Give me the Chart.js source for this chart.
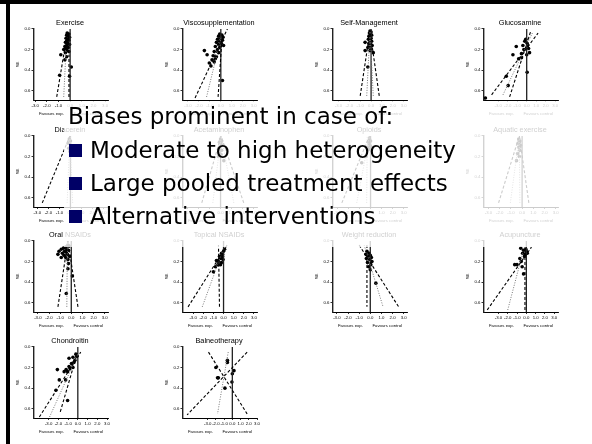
<!DOCTYPE html>
<html>
<head>
<meta charset="utf-8">
<script src="https://cdn.jsdelivr.net/npm/chart.js@4.4.0/dist/chart.umd.min.js"></script>
<style>
  html, body { margin: 0; padding: 0; background: #fff; }
  #slide { position: relative; width: 592px; height: 444px; overflow: hidden; background: #fff; }
  #slide canvas { position: absolute; }
  .frame { position: absolute; background: #000; }
  #veil { position: absolute; left: 64px; top: 101px; width: 526px; height: 146px; background: rgba(255,255,255,0.8); }
  .txt { position: absolute; font-family: "DejaVu Sans", sans-serif; font-size: 23px; line-height: 23px; color: #000; white-space: nowrap; }
  .sq { position: absolute; width: 13px; height: 13px; background: #000066; }
</style>
</head>
<body>
<div id="slide">
  <div class="frame" style="left:0;top:0;width:592px;height:4px"></div>
  <div class="frame" style="left:6px;top:0;width:4px;height:444px"></div>
  <div id="veil"></div>
  <div class="txt" style="left:68px;top:105px">Biases prominent in case of:</div>
  <div class="sq" style="left:69px;top:144px"></div>
  <div class="txt" style="left:90px;top:139px">Moderate to high heterogeneity</div>
  <div class="sq" style="left:69px;top:177px"></div>
  <div class="txt" style="left:90px;top:172px">Large pooled treatment effects</div>
  <div class="sq" style="left:69px;top:210px"></div>
  <div class="txt" style="left:90px;top:205px">Alternative interventions</div>
</div>
<script>
const titles = ['Exercise', 'Viscosupplementation', 'Self-Management', 'Glucosamine',
  'Diacerein', 'Acetaminophen', 'Opioids', 'Aquatic exercise',
  'Oral NSAIDs', 'Topical NSAIDs', 'Weight reduction', 'Acupuncture',
  'Chondroitin', 'Balneotherapy'];
const xTickValues = [-3, -2, -1, 0, 1, 2, 3];
const seTicks = [0, 0.2, 0.4, 0.6];
const seMax = 0.69;
const xRanges = [[-3.1, 3.25], [-3.45, 3.3], [-3.5, 3.3], [-4.5, 3.3],
  [-3.3, 3.4], [-3.4, 3.3], [-3.4, 3.3], [-3.4, 3.2],
  [-3.35, 3.3], [-4.0, 3.3], [-3.35, 3.3], [-4.55, 3.4],
  [-4.5, 3.1], [-6.0, 3.0]];

// [effect, SE]
const exercisePts = [[-0.25,0.04],[-0.1,0.05],[-0.3,0.06],[-0.15,0.07],[-0.05,0.08],[-0.35,0.09],[-0.2,0.1],[-0.1,0.11],[-0.3,0.12],[-0.4,0.13],[-0.2,0.14],[-0.05,0.15],[-0.3,0.16],[-0.45,0.17],[-0.15,0.18],[-0.35,0.19],[-0.55,0.2],[-0.25,0.21],[-0.1,0.22],[-0.4,0.23],[-0.8,0.25],[-0.3,0.27],[-0.45,0.3],[0.1,0.37],[-0.9,0.45],[-0.05,0.46]];
const viscoPts = [[-0.1,0.05],[0.1,0.06],[-0.2,0.07],[0.2,0.08],[0.0,0.09],[-0.3,0.1],[0.15,0.11],[-0.1,0.12],[-0.4,0.13],[0.05,0.14],[-0.2,0.15],[0.25,0.16],[-0.5,0.17],[-0.1,0.18],[-1.5,0.21],[-0.3,0.2],[-0.6,0.22],[-0.2,0.23],[-1.25,0.25],[-0.7,0.26],[-0.4,0.27],[-0.5,0.29],[-0.8,0.3],[-1.05,0.33],[-0.6,0.32],[-0.9,0.36],[0.15,0.5]];
const selfMgmtPts = [[-0.1,0.02],[0.0,0.03],[-0.15,0.04],[-0.05,0.05],[0.05,0.06],[-0.2,0.07],[-0.1,0.08],[0.0,0.09],[-0.25,0.1],[-0.1,0.11],[0.05,0.12],[-0.55,0.13],[-0.2,0.14],[-0.05,0.15],[0.1,0.16],[-0.15,0.17],[-0.3,0.18],[0.0,0.19],[-0.55,0.21],[-0.1,0.21],[0.2,0.23],[-0.3,0.37]];
const glucosaminePts = [[-0.1,0.1],[-0.2,0.12],[0.05,0.14],[-0.4,0.16],[0.1,0.16],[-1.1,0.17],[0.2,0.19],[-0.3,0.2],[0.3,0.23],[-0.55,0.24],[0.0,0.25],[-1.45,0.25],[-0.55,0.28],[-0.85,0.29],[0.05,0.42],[-2.15,0.46],[-1.95,0.55],[-4.35,0.67]];
const diacereinPts = [[-0.1,0.03],[0.0,0.05],[-0.2,0.07],[0.05,0.09],[-0.15,0.12],[-0.05,0.15]];
const acetaminophenPts = [[0.0,0.03],[0.1,0.05],[-0.1,0.06],[0.15,0.08],[0.0,0.1],[-0.15,0.12],[0.1,0.14],[0.05,0.18],[-0.2,0.2],[0.3,0.24]];
const opioidPts = [[-0.1,0.03],[0.0,0.05],[-0.2,0.06],[-0.1,0.08],[0.0,0.1],[-0.3,0.11],[-0.15,0.13],[-0.4,0.2],[-0.8,0.26]];
const aquaticPts = [[-0.3,0.03],[-0.2,0.05],[-0.35,0.07],[-0.15,0.09],[-0.3,0.11],[-0.2,0.14],[-0.4,0.17],[-0.25,0.2],[-0.5,0.24]];
const oralNsaidPts = [[-0.3,0.04],[-0.2,0.05],[-0.5,0.06],[-0.7,0.07],[-0.4,0.08],[-0.9,0.08],[-0.25,0.09],[-1.1,0.1],[-0.6,0.1],[-0.45,0.11],[-0.8,0.12],[-1.2,0.13],[-0.35,0.13],[-0.65,0.14],[-0.15,0.15],[-0.5,0.16],[-0.9,0.16],[-0.3,0.18],[-0.25,0.22],[-0.3,0.27],[0.1,0.34],[-0.45,0.51]];
const topicalNsaidPts = [[0.1,0.08],[0.0,0.1],[-0.2,0.12],[-0.1,0.13],[-0.4,0.15],[-0.1,0.15],[-0.3,0.17],[-0.05,0.18],[-0.7,0.19],[-0.5,0.2],[-0.2,0.21],[-0.55,0.23],[-0.3,0.23],[-0.8,0.25],[-1.0,0.3]];
const weightPts = [[-0.3,0.1],[-0.1,0.12],[-0.4,0.13],[0.0,0.14],[-0.2,0.15],[0.1,0.16],[-0.35,0.17],[-0.05,0.18],[0.15,0.2],[-0.25,0.21],[0.05,0.23],[-0.15,0.25],[0.0,0.28],[0.5,0.41]];
const acupuncturePts = [[-0.6,0.07],[-0.05,0.08],[-0.3,0.09],[0.0,0.1],[-0.4,0.12],[0.1,0.12],[-0.1,0.13],[-0.2,0.15],[-0.7,0.17],[-0.55,0.2],[-1.25,0.23],[-1.0,0.23],[-0.45,0.25],[-0.3,0.32]];
const chondroitinPts = [[-0.2,0.07],[-0.1,0.09],[-0.5,0.1],[-0.9,0.11],[-0.3,0.13],[-0.4,0.15],[-0.65,0.16],[-0.9,0.19],[-0.5,0.2],[-0.8,0.21],[-1.2,0.22],[-2.1,0.22],[-1.05,0.24],[-1.4,0.24],[-1.9,0.32],[-1.25,0.32],[-2.25,0.42],[-1.05,0.52]];
const balneoPts = [[-0.6,0.13],[-0.6,0.15],[-2.0,0.2],[0.2,0.23],[0.0,0.26],[-1.8,0.3],[-1.7,0.3],[-0.05,0.34],[-0.9,0.4]];

// dashed and dotted guide lines, each as [start, end] in [effect, SE]
const exerciseDash = [[[-1.15,0.66],[-0.3,0.08]], [[-0.1,0.66],[-0.1,0.25]]];
const exerciseDot = [[[-0.55,0.66],[-0.35,0.2]]];
const viscoDash = [[[-2.35,0.67],[0.6,0.0]], [[-0.25,0.66],[0.1,0.1]]];
const viscoDot = [[[-1.3,0.66],[0.05,0.07]]];
const selfMgmtDash = [[[-1.0,0.65],[-0.1,0.02]], [[0.75,0.65],[-0.1,0.02]]];
const selfMgmtDot = [[[-0.4,0.65],[-0.1,0.02]], [[0.2,0.65],[-0.1,0.02]]];
const glucosamineDash = [[[-3.7,0.64],[1.2,0.04]], [[-1.8,0.66],[0.4,0.03]]];
const glucosamineDot = [[[-2.5,0.64],[0.65,0.03]]];
const diacereinDash = [[[-2.55,0.65],[-0.05,0.0]]];
const diacereinDot = [[[-0.3,0.65],[-0.05,0.0]], [[0.2,0.65],[-0.05,0.0]]];
const acetaminophenDash = [[[-1.7,0.65],[0.05,0.0]], [[2.1,0.65],[0.05,0.0]]];
const acetaminophenDot = [[[-0.7,0.65],[0.05,0.0]], [[1.2,0.65],[0.05,0.0]]];
const opioidDash = [[[-2.6,0.65],[-0.1,0.0]]];
const opioidDot = [[[-1.25,0.65],[-0.1,0.0]], [[-0.35,0.65],[-0.3,0.0]]];
const aquaticDash = [[[-2.1,0.65],[-0.25,0.0]], [[0.6,0.65],[-0.25,0.0]]];
const aquaticDot = [[[-1.05,0.65],[-0.25,0.0]], [[-0.2,0.65],[-0.25,0.0]]];
const oralNsaidDash = [[[-1.2,0.64],[-0.3,0.0]], [[0.6,0.64],[-0.3,0.0]]];
const oralNsaidDot = [[[-0.4,0.64],[-0.35,0.0]]];
const topicalNsaidDash = [[[-3.5,0.64],[0.35,0.04]], [[-0.4,0.64],[-0.5,0.04]]];
const topicalNsaidDot = [[[-2.1,0.64],[-0.1,0.1]]];
const weightDash = [[[-1.0,0.04],[2.55,0.64]], [[-0.3,0.04],[-0.3,0.64]]];
const weightDot = [[[-0.55,0.04],[1.15,0.64]]];
const acupunctureDash = [[[-4.2,0.67],[0.55,0.06]], [[-0.15,0.67],[-0.15,0.06]]];
const acupunctureDot = [[[-2.0,0.67],[-0.4,0.12]]];
const chondroitinDash = [[[-3.95,0.68],[0.3,0.05]], [[-1.8,0.63],[-0.05,0.06]]];
const chondroitinDot = [[[-2.9,0.68],[0.0,0.07]]];
const balneoDash = [[[-2.9,0.05],[1.8,0.65]], [[1.8,0.05],[-5.5,0.66]]];
const balneoDot = [[[-0.5,0.05],[-1.8,0.65]]];

const studyPoints = [exercisePts, viscoPts, selfMgmtPts, glucosaminePts, diacereinPts, acetaminophenPts, opioidPts, aquaticPts,
  oralNsaidPts, topicalNsaidPts, weightPts, acupuncturePts, chondroitinPts, balneoPts];
const dashedLines = [exerciseDash, viscoDash, selfMgmtDash, glucosamineDash, diacereinDash, acetaminophenDash, opioidDash, aquaticDash,
  oralNsaidDash, topicalNsaidDash, weightDash, acupunctureDash, chondroitinDash, balneoDash];
const dottedLines = [exerciseDot, viscoDot, selfMgmtDot, glucosamineDot, diacereinDot, acetaminophenDot, opioidDot, aquaticDot,
  oralNsaidDot, topicalNsaidDot, weightDot, acupunctureDot, chondroitinDot, balneoDot];

// layout of the 4x4 grid (y axis x position, top of plot area)
const colX = [34, 183, 333, 484];
const rowY = [29, 136, 241, 347];
const plotW = 74, plotH = 71;
const leftW = 26, rightW = 24, topH = 14, bottomH = 17;
const smallFont = { family: 'Liberation Sans', size: 4.3 };

const slide = document.getElementById('slide');
const veil = document.getElementById('veil');

const toXY = pts => pts.map(p => ({ x: p[0], y: p[1] }));

titles.forEach((title, i) => {
  const col = i % 4, row = Math.floor(i / 4);
  const cv = document.createElement('canvas');
  cv.width = leftW + plotW + rightW;
  cv.height = topH + plotH + bottomH;
  cv.style.left = (colX[col] - leftW) + 'px';
  cv.style.top = (rowY[row] - topH) + 'px';
  slide.insertBefore(cv, veil);

  const [xMin, xMax] = xRanges[i];
  const datasets = [];
  dashedLines[i].forEach(seg => datasets.push({
    data: toXY(seg), showLine: true, pointRadius: 0, borderColor: '#000', borderWidth: 1.1, borderDash: [3, 2]
  }));
  dottedLines[i].forEach(seg => datasets.push({
    data: toXY(seg), showLine: true, pointRadius: 0, borderColor: '#777', borderWidth: 1, borderDash: [1, 1.5]
  }));
  datasets.push({
    data: [{ x: 0, y: 0 }, { x: 0, y: seMax }], showLine: true, pointRadius: 0, borderColor: '#222', borderWidth: 1.3
  });
  datasets.push({
    data: toXY(studyPoints[i]), showLine: false, pointRadius: 1.8, pointBackgroundColor: '#000', pointBorderWidth: 0
  });

  new Chart(cv, {
    type: 'scatter',
    data: { datasets },
    options: {
      responsive: false,
      animation: false,
      devicePixelRatio: 1,
      layout: { padding: 0 },
      plugins: {
        legend: { display: false },
        tooltip: { enabled: false },
        title: {
          display: true, text: title, color: '#000',
          font: { family: 'Liberation Sans', size: 7.3, weight: 'normal' },
          padding: { top: 3.6, bottom: 1.6 }
        }
      },
      scales: {
        x: {
          type: 'linear', min: xMin, max: xMax,
          afterFit: s => { s.height = bottomH; },
          afterBuildTicks: s => { s.ticks = xTickValues.filter(v => v >= xMin && v <= xMax).map(v => ({ value: v })); },
          ticks: { font: smallFont, color: '#000', padding: 1.5, maxRotation: 0, autoSkip: false, callback: v => v.toFixed(1) },
          grid: { display: true, drawOnChartArea: false, drawTicks: true, tickLength: 2, color: '#000', lineWidth: 0.8 },
          border: { display: true, color: '#000', width: 1 },
          title: { display: true, text: 'Favours exp.        Favours control', font: smallFont, color: '#000', padding: { top: 0, bottom: 1 } }
        },
        y: {
          type: 'linear', reverse: true, min: 0, max: seMax,
          afterFit: s => { s.width = leftW; },
          afterBuildTicks: s => { s.ticks = seTicks.map(v => ({ value: v })); },
          ticks: { font: smallFont, color: '#000', padding: 1, autoSkip: false, callback: v => v.toFixed(1) },
          grid: { display: true, drawOnChartArea: false, drawTicks: true, tickLength: 2.5, color: '#000', lineWidth: 0.8 },
          border: { display: true, color: '#222', width: 1.4 },
          title: { display: true, text: 'SE', font: smallFont, color: '#000', padding: { top: 7.5, bottom: 0 } }
        },
        yr: {
          type: 'linear', position: 'right', display: true,
          afterFit: s => { s.width = rightW; },
          ticks: { display: false },
          grid: { display: false },
          border: { display: false }
        }
      }
    }
  });
});
</script>
</body>
</html>
